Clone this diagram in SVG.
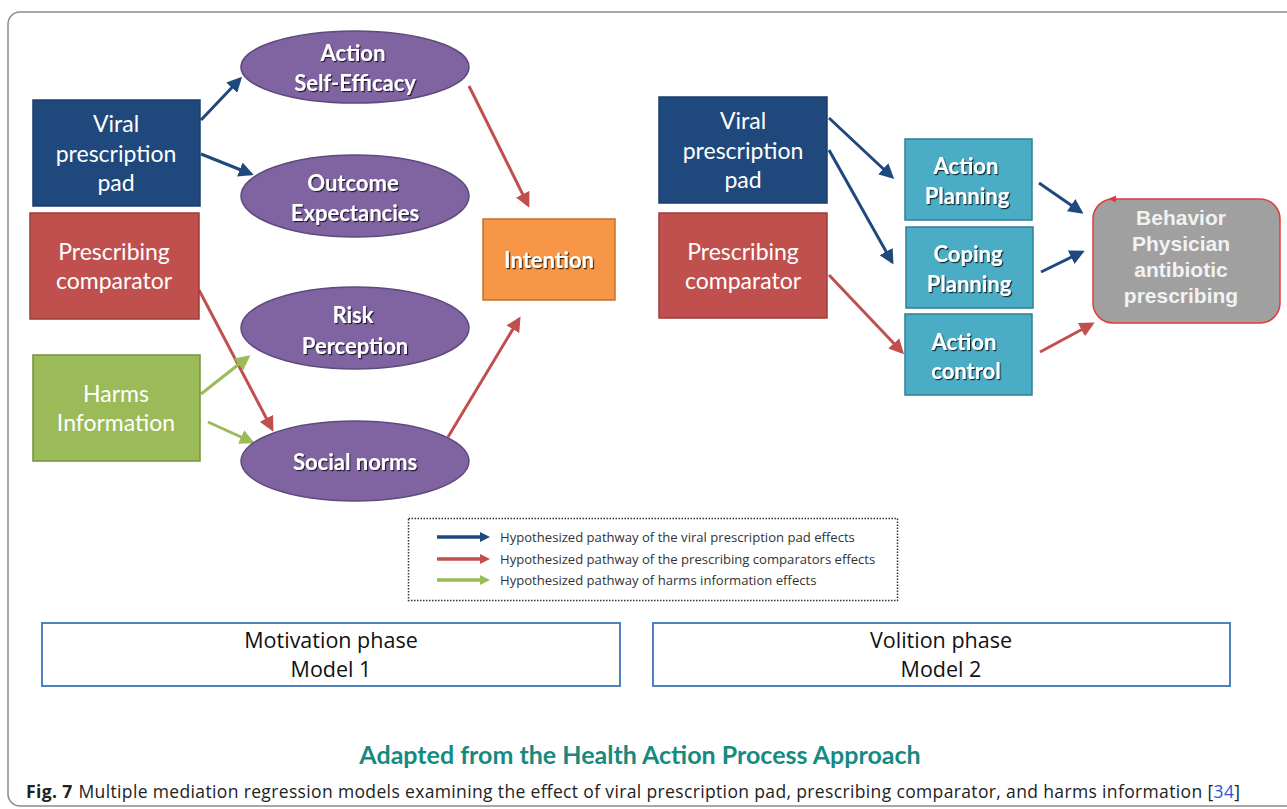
<svg xmlns="http://www.w3.org/2000/svg" width="1287" height="809" viewBox="0 0 1287 809">
<style>
.frame{fill:none;stroke:#8a8a8a;stroke-width:1.5}
.node-t{font-family:Lato,"Open Sans",sans-serif;font-size:23px;fill:#ffffff;text-anchor:middle}
.bold-t{font-family:Lato,"Open Sans",sans-serif;font-size:22px;font-weight:bold;fill:#ffffff;text-anchor:middle;filter:url(#sh)}
.beh-t{font-family:"Liberation Sans",Arial,sans-serif;font-size:21px;font-weight:bold;fill:#f2f2f2;text-anchor:middle}
.blue{fill:#1f497d;stroke:#1a3e6c;stroke-width:1.5}
.red{fill:#c0504d;stroke:#9c3d3a;stroke-width:1.5}
.green{fill:#9bbb59;stroke:#74913c;stroke-width:1.5}
.ell{fill:#8064a2;stroke:#5e4a7c;stroke-width:1.5}
.orange{fill:#f79646;stroke:#c46f2e;stroke-width:1.5}
.teal{fill:#4bacc6;stroke:#2f7f94;stroke-width:1.5}
.cb{stroke:#1f497d;stroke-width:3;fill:none;marker-end:url(#mb)}
.cr{stroke:#c0504d;stroke-width:3;fill:none;marker-end:url(#mr)}
.cg{stroke:#9bbb59;stroke-width:3;fill:none;marker-end:url(#mg)}
.leg-t{font-family:"Open Sans",Lato,sans-serif;font-size:13.1px;fill:#333333}
.phase{fill:#ffffff;stroke:#4f81bd;stroke-width:2}
.phase-t{font-family:"Open Sans",Lato,sans-serif;font-size:21.5px;fill:#111111;text-anchor:middle}
</style>
<defs>
<filter id="sh" x="-10%" y="-20%" width="130%" height="150%">
<feDropShadow dx="1.2" dy="1.2" stdDeviation="0.6" flood-color="#000000" flood-opacity="0.75"/>
</filter>
<marker id="mb" markerWidth="5" markerHeight="5" refX="4" refY="2.5" orient="auto" markerUnits="strokeWidth"><path d="M0,0 L5,2.5 L0,5 z" fill="#1f497d"/></marker>
<marker id="mr" markerWidth="5" markerHeight="5" refX="4" refY="2.5" orient="auto" markerUnits="strokeWidth"><path d="M0,0 L5,2.5 L0,5 z" fill="#c0504d"/></marker>
<marker id="mg" markerWidth="5" markerHeight="5" refX="4" refY="2.5" orient="auto" markerUnits="strokeWidth"><path d="M0,0 L5,2.5 L0,5 z" fill="#9bbb59"/></marker>
</defs>
<rect x="0" y="0" width="1287" height="809" fill="#ffffff"/>
<rect class="frame" x="8" y="12" width="1300" height="794" rx="12"/>

<g id="connectors">
<line class="cb" x1="201" y1="120" x2="240" y2="79"/>
<line class="cb" x1="201" y1="154" x2="251" y2="174"/>
<line class="cr" x1="469" y1="86" x2="528" y2="205"/>
<line class="cr" x1="199" y1="290" x2="272" y2="429"/>
<line class="cg" x1="201" y1="394" x2="248" y2="357"/>
<line class="cg" x1="208" y1="422" x2="252" y2="442"/>
<line class="cr" x1="448" y1="437" x2="519" y2="319"/>
<line class="cb" x1="829" y1="118" x2="892" y2="177"/>
<line class="cb" x1="829" y1="150" x2="892" y2="262"/>
<line class="cr" x1="829" y1="275" x2="902" y2="352"/>
<line class="cb" x1="1039" y1="183" x2="1081" y2="212"/>
<line class="cb" x1="1041" y1="272" x2="1082" y2="252"/>
<line class="cr" x1="1040" y1="352" x2="1092" y2="324"/>
</g>

<g id="viral-pad-1">
<rect class="blue" x="33" y="100" width="167" height="106"/>
<text class="node-t" x="116" y="132">Viral</text>
<text class="node-t" x="116" y="162">prescription</text>
<text class="node-t" x="116" y="191">pad</text>
</g>
<g id="prescribing-comparator-1">
<rect class="red" x="30" y="213" width="169" height="106"/>
<text class="node-t" x="114" y="260">Prescribing</text>
<text class="node-t" x="114" y="289">comparator</text>
</g>
<g id="harms-information">
<rect class="green" x="33" y="355" width="167" height="106"/>
<text class="node-t" x="116" y="402">Harms</text>
<text class="node-t" x="116" y="431">Information</text>
</g>

<g id="action-self-efficacy">
<ellipse class="ell" cx="355" cy="67" rx="114" ry="36"/>
<text class="bold-t" x="353" y="61">Action</text>
<text class="bold-t" x="355" y="91">Self-Efficacy</text>
</g>
<g id="outcome-expectancies">
<ellipse class="ell" cx="355" cy="196" rx="114" ry="41"/>
<text class="bold-t" x="353" y="191">Outcome</text>
<text class="bold-t" x="355" y="221">Expectancies</text>
</g>
<g id="risk-perception">
<ellipse class="ell" cx="355" cy="328" rx="114" ry="41"/>
<text class="bold-t" x="353" y="323">Risk</text>
<text class="bold-t" x="355" y="354">Perception</text>
</g>
<g id="social-norms">
<ellipse class="ell" cx="355" cy="461" rx="114" ry="40"/>
<text class="bold-t" x="355" y="470">Social norms</text>
</g>
<g id="intention">
<rect class="orange" x="483" y="219" width="132" height="81"/>
<text class="bold-t" x="549" y="268">Intention</text>
</g>

<g id="viral-pad-2">
<rect class="blue" x="659" y="97" width="168" height="106"/>
<text class="node-t" x="743" y="129">Viral</text>
<text class="node-t" x="743" y="159">prescription</text>
<text class="node-t" x="743" y="188">pad</text>
</g>
<g id="prescribing-comparator-2">
<rect class="red" x="659" y="213" width="168" height="105"/>
<text class="node-t" x="743" y="260">Prescribing</text>
<text class="node-t" x="743" y="289">comparator</text>
</g>
<g id="action-planning">
<rect class="teal" x="905" y="139" width="127" height="81"/>
<text class="bold-t" x="966" y="174">Action</text>
<text class="bold-t" x="967" y="204">Planning</text>
</g>
<g id="coping-planning">
<rect class="teal" x="906" y="227" width="127" height="81"/>
<text class="bold-t" x="968" y="262">Coping</text>
<text class="bold-t" x="969" y="292">Planning</text>
</g>
<g id="action-control">
<rect class="teal" x="905" y="314" width="127" height="81"/>
<text class="bold-t" x="964" y="350">Action</text>
<text class="bold-t" x="966" y="379">control</text>
</g>
<g id="behavior">
<rect x="1093" y="199" width="187" height="124" rx="20" fill="#a0a0a0" stroke="#e23a3a" stroke-width="1.5"/>
<path d="M1108,199 L1116,195.5 L1116,202.5 z" fill="#e23a3a"/>
<text class="beh-t" x="1181" y="225">Behavior</text>
<text class="beh-t" x="1181" y="251">Physician</text>
<text class="beh-t" x="1181" y="277">antibiotic</text>
<text class="beh-t" x="1181" y="303">prescribing</text>
</g>

<g id="legend">
<rect x="408.5" y="518.5" width="489" height="82" fill="none" stroke="#333333" stroke-width="1.5" stroke-dasharray="1.5,1.5"/>
<line x1="437" y1="537" x2="482" y2="537" stroke="#1f497d" stroke-width="3.5"/>
<path d="M480,532 L490,537 L480,542 z" fill="#1f497d"/>
<line x1="437" y1="559" x2="482" y2="559" stroke="#c0504d" stroke-width="3.5"/>
<path d="M480,554 L490,559 L480,564 z" fill="#c0504d"/>
<line x1="437" y1="580" x2="482" y2="580" stroke="#9bbb59" stroke-width="3.5"/>
<path d="M480,575 L490,580 L480,585 z" fill="#9bbb59"/>
<text class="leg-t" x="500" y="542">Hypothesized pathway of the viral prescription pad effects</text>
<text class="leg-t" x="500" y="564">Hypothesized pathway of the prescribing comparators effects</text>
<text class="leg-t" x="500" y="585">Hypothesized pathway of harms information effects</text>
</g>

<g id="motivation-phase">
<rect class="phase" x="42" y="623" width="578" height="63"/>
<text class="phase-t" x="331" y="648">Motivation phase</text>
<text class="phase-t" x="331" y="677">Model 1</text>
</g>
<g id="volition-phase">
<rect class="phase" x="653" y="623" width="577" height="63"/>
<text class="phase-t" x="941" y="648">Volition phase</text>
<text class="phase-t" x="941" y="677">Model 2</text>
</g>

<text x="640" y="764" font-family="Lato,'Open Sans',sans-serif" font-size="25" font-weight="bold" fill="#17897f" text-anchor="middle">Adapted from the Health Action Process Approach</text>
<text x="26" y="798" font-family="'Open Sans',Lato,sans-serif" font-size="17.5" fill="#222222" textLength="1214" lengthAdjust="spacing"><tspan font-weight="bold">Fig. 7</tspan><tspan dx="6">Multiple mediation regression models examining the effect of viral prescription pad, prescribing comparator, and harms information [</tspan><tspan fill="#3355cc">34</tspan><tspan>]</tspan></text>
</svg>
